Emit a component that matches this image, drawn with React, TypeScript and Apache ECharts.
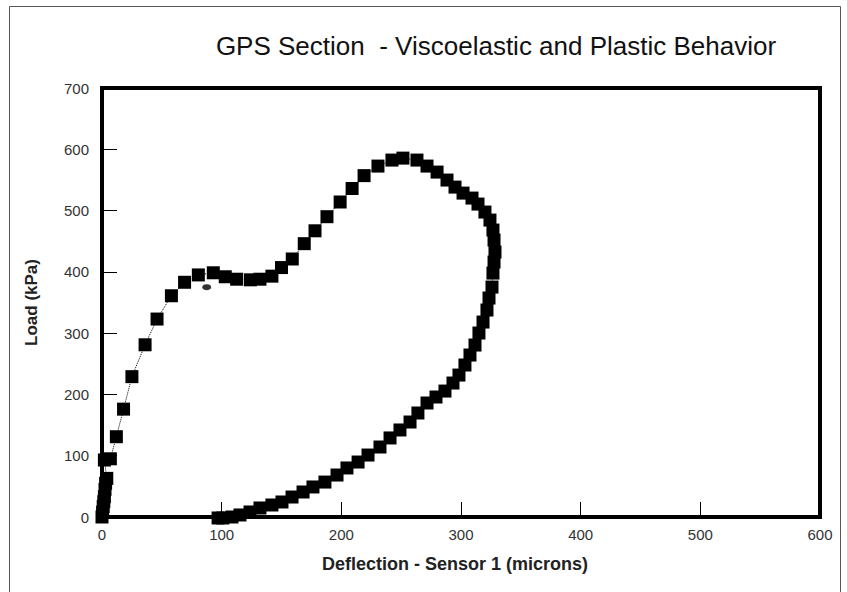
import React, { useEffect, useRef } from "react";
import * as echarts from "echarts";

const titleText = "GPS Section  - Viscoelastic and Plastic Behavior";
const xAxisName = "Deflection - Sensor 1 (microns)";
const yAxisName = "Load (kPa)";

// Deflection (microns) and load (kPa), in loading order
const deflection = [
  0, 0.5, 1, 1.5, 2, 2.5, 3, 4, 2, 7, 12, 18, 25, 36, 46, 58, 69, 80.5, 93, 103, 112.5, 124, 132, 142,
  150, 159, 169, 178, 188, 199, 209, 219, 230.6, 242.3, 251.5, 263.2, 271.6, 280, 288.3, 295, 301.7, 309.2,
  314.2, 320, 324.2, 326.7, 327.6, 328.4, 327.6, 326.7, 325.9, 323.4, 321.7, 318.4, 315, 311.7, 307.5,
  303.3, 298.3, 293.3, 286.6, 279.1, 271.6, 264, 257.4, 249, 240.7, 232.3, 222.3, 214, 204.7, 196.4,
  186.3, 176.3, 168, 158.8, 150.4, 142, 132, 123.7, 115.3, 108.6, 101, 97,
];
const load = [
  0, 8, 17, 25, 33, 45, 55, 63, 93, 95, 131, 176, 229, 281, 323, 361, 383, 395, 398.5, 392, 388, 387, 388, 393,
  407, 421, 446, 467, 490, 514, 536, 557, 572.6, 582.4, 585.6, 582.4, 572.6, 562.8, 549.8, 538.3, 528.5, 520.4,
  510.6, 497.6, 484.5, 468.2, 451.9, 432.3, 416, 398, 375.2, 357.3, 337.7, 318.1, 300.2, 280.6, 264.3,
  248, 231.6, 218.6, 205.5, 195.8, 186, 169.7, 155, 142, 129, 114.2, 101.1, 89.7, 80, 68.5,
  57, 49, 40.8, 32.6, 24.5, 19.6, 14.7, 8.2, 3.3, 0, -1.6, -1.6,
];
// One stray small mark below the hump
const strayDeflection = [87.5];
const strayLoad = [375];

export default function App() {
  const ref = useRef<HTMLDivElement>(null);
  useEffect(() => {
    if (!ref.current) return;
    const chart = echarts.init(ref.current, undefined, { renderer: "svg" });
    const font = "'Liberation Sans', Arial, sans-serif";
    chart.setOption({
      animation: false,
      backgroundColor: "#ffffff",
      title: {
        text: titleText,
        left: 491,
        textAlign: "center",
        top: 28,
        textStyle: { fontFamily: font, fontSize: 26, fontWeight: "normal", color: "#111" },
      },
      graphic: [
        {
          type: "rect",
          shape: { x: 9.5, y: 6.5, width: 831, height: 600 },
          style: { fill: "none", stroke: "#555", lineWidth: 1 },
          silent: true,
        },
      ],
      grid: {
        left: 102,
        right: 27,
        top: 88,
        bottom: 75,
        show: true,
        borderColor: "#000",
        borderWidth: 4,
        backgroundColor: "transparent",
      },
      xAxis: {
        type: "value",
        min: 0,
        max: 600,
        interval: 100,
        name: xAxisName,
        nameLocation: "middle",
        nameGap: 38,
        nameTextStyle: { fontFamily: font, fontSize: 18, fontWeight: "bold", color: "#222", padding: [0, 12, 0, 0] },
        axisLine: { show: true, onZero: false, lineStyle: { color: "#000", width: 4 } },
        axisTick: { show: true, inside: true, length: 15, lineStyle: { color: "#000", width: 1 } },
        axisLabel: { fontFamily: font, fontSize: 15, color: "#333", margin: 10 },
        splitLine: { show: false },
      },
      yAxis: {
        type: "value",
        min: 0,
        max: 700,
        interval: 100,
        name: yAxisName,
        nameLocation: "middle",
        nameGap: 62,
        nameTextStyle: { fontFamily: font, fontSize: 17, fontWeight: "bold", color: "#222" },
        axisLine: { show: true, onZero: false, lineStyle: { color: "#000", width: 4 } },
        axisTick: { show: true, inside: true, length: 15, lineStyle: { color: "#000", width: 1 } },
        axisLabel: { fontFamily: font, fontSize: 15, color: "#333", margin: 13 },
        splitLine: { show: false },
      },
      series: [
        {
          type: "line",
          data: deflection.map((d, i) => [d, load[i]]),
          symbol: "rect",
          symbolSize: 13,
          showSymbol: true,
          itemStyle: { color: "#000" },
          lineStyle: { color: "#000", width: 1, type: "dotted" },
          clip: false,
        },
        {
          type: "scatter",
          data: strayDeflection.map((d, i) => [d, strayLoad[i]]),
          symbol: "circle",
          symbolSize: [9, 6],
          itemStyle: { color: "#000" },
        },
      ],
    });
    return () => chart.dispose();
  }, []);
  return (
    <div
      ref={ref}
      style={{ position: "fixed", left: 0, top: 0, width: 847, height: 592, background: "#fff" }}
    />
  );
}
